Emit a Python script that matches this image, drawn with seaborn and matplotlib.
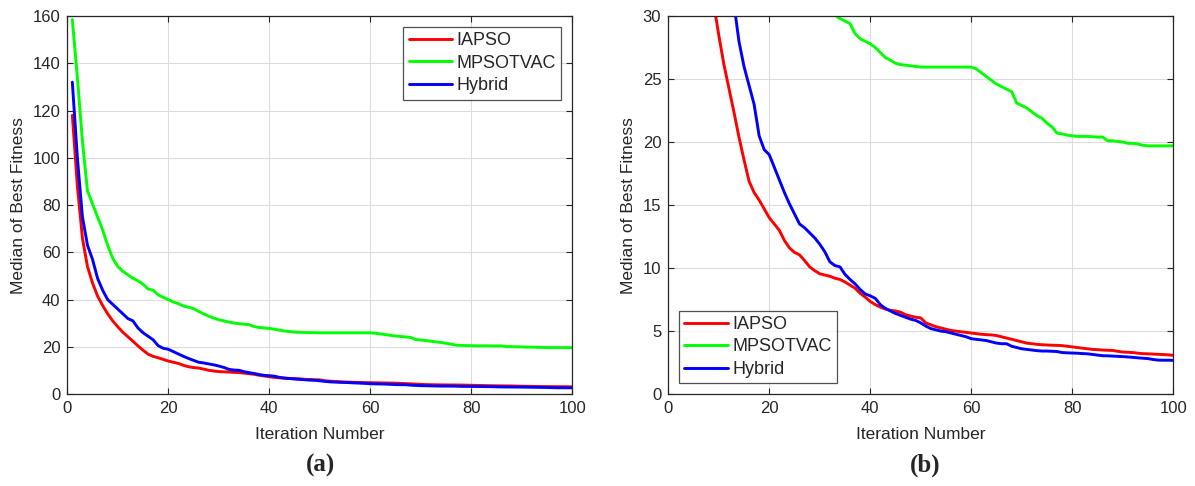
import numpy as np
import pandas as pd
import seaborn as sns
import matplotlib.pyplot as plt

# Median best fitness per iteration
iterations = list(range(1, 101))

iapso = [118, 88, 66, 54, 47, 41.5, 37.5, 34, 31, 28.5,
         26.2, 24.3, 22.4, 20.4, 18.6, 16.9, 16.0, 15.4, 14.7, 14.0,
         13.5, 13.0, 12.2, 11.6, 11.25, 11.05, 10.6, 10.1, 9.8, 9.55,
         9.45, 9.35, 9.2, 9.1, 8.9, 8.65, 8.4, 8.0, 7.7, 7.35,
         7.1, 6.9, 6.75, 6.65, 6.6, 6.5, 6.3, 6.2, 6.1, 6.05,
         5.65, 5.5, 5.35, 5.25, 5.15, 5.05, 5.0, 4.95, 4.9, 4.85,
         4.8, 4.75, 4.72, 4.7, 4.65, 4.55, 4.45, 4.35, 4.25, 4.15,
         4.05, 4.0, 3.95, 3.92, 3.9, 3.88, 3.87, 3.85, 3.8, 3.75,
         3.7, 3.65, 3.6, 3.55, 3.53, 3.5, 3.48, 3.47, 3.4, 3.34,
         3.32, 3.3, 3.25, 3.21, 3.2, 3.18, 3.16, 3.14, 3.12, 3.08]

mpsotvac = [158.5, 134, 107, 86, 80.5, 75, 69.5, 63, 57.5, 54,
            52, 50.5, 49, 48, 46.5, 44.5, 44, 42, 41, 40,
            39, 38.3, 37.3, 36.8, 36.2, 35, 34, 33, 32.2, 31.5,
            31, 30.5, 30.1, 29.8, 29.6, 29.4, 28.6, 28.2, 28.0, 27.8,
            27.5, 27.1, 26.7, 26.5, 26.25, 26.15, 26.1, 26.05, 26.0, 25.95,
            25.95, 25.95, 25.95, 25.95, 25.95, 25.95, 25.95, 25.95, 25.95, 25.95,
            25.8, 25.5, 25.2, 24.9, 24.6, 24.4, 24.2, 24.0, 23.1, 22.9,
            22.7, 22.4, 22.1, 21.9, 21.5, 21.2, 20.7, 20.65, 20.55, 20.5,
            20.45, 20.45, 20.45, 20.42, 20.4, 20.4, 20.1, 20.1, 20.05, 20.0,
            19.9, 19.9, 19.85, 19.75, 19.7, 19.7, 19.7, 19.7, 19.7, 19.7]

hybrid = [132, 100, 75, 63, 57, 49, 44, 40, 38, 36,
          34, 32, 31, 28, 26, 24.5, 23, 20.5, 19.4, 19.0,
          18.0, 17.0, 16.0, 15.1, 14.3, 13.5, 13.2, 12.8, 12.4, 11.9,
          11.3, 10.5, 10.2, 10.1, 9.5, 9.1, 8.75, 8.3, 7.95, 7.8,
          7.6, 7.1, 6.8, 6.6, 6.4, 6.25, 6.1, 5.95, 5.85, 5.65,
          5.4, 5.2, 5.1, 5.0, 4.95, 4.85, 4.75, 4.65, 4.55, 4.4,
          4.35, 4.3, 4.25, 4.15, 4.05, 4.0, 4.0, 3.8, 3.7, 3.6,
          3.55, 3.5, 3.45, 3.42, 3.42, 3.4, 3.38, 3.3, 3.28, 3.26,
          3.25, 3.22, 3.2, 3.15, 3.1, 3.05, 3.04, 3.02, 3.0, 2.98,
          2.95, 2.92, 2.88, 2.85, 2.82, 2.75, 2.7, 2.69, 2.69, 2.68]

method_names = ["IAPSO", "MPSOTVAC", "Hybrid"]
palette = {"IAPSO": "#ff0000", "MPSOTVAC": "#00ff00", "Hybrid": "#0000ff"}

df = pd.DataFrame({
    "Iteration": iterations * 3,
    "Fitness": iapso + mpsotvac + hybrid,
    "Method": [m for m in method_names for _ in iterations],
})

sns.set_theme(style="white")
plt.rcParams["font.family"] = ["Liberation Sans", "DejaVu Sans"]

fig = plt.figure(figsize=(11.95, 4.86), dpi=100)
ax_a = fig.add_axes([0.0563, 0.189, 0.4226, 0.778])
ax_b = fig.add_axes([0.5592, 0.189, 0.4226, 0.778])


def style_axis(ax, ylim, yticks):
    ax.set_xlim(0, 100)
    ax.set_ylim(*ylim)
    ax.set_xticks(range(0, 101, 20))
    ax.set_yticks(yticks)
    ax.grid(True, color="#dcdcdc", linewidth=0.8)
    ax.set_axisbelow(True)
    ax.tick_params(direction="in", length=4, width=0.8, colors="#262626",
                   labelsize=12, top=True, right=True,
                   bottom=True, left=True, pad=5)
    for s in ax.spines.values():
        s.set_color("#262626")
        s.set_linewidth(0.9)
    ax.set_xlabel("Iteration Number", fontsize=12.5, color="#262626", labelpad=8)
    ax.set_ylabel("Median of Best Fitness", fontsize=12.5, color="#262626", labelpad=5)


for ax, ylim, yticks, loc in [
    (ax_a, (0, 160), range(0, 161, 20), "upper right"),
    (ax_b, (0, 30), range(0, 31, 5), "lower left"),
]:
    sns.lineplot(data=df, x="Iteration", y="Fitness", hue="Method",
                 hue_order=method_names, palette=palette, linewidth=2.1,
                 ax=ax)
    style_axis(ax, ylim, yticks)
    leg = ax.legend(loc=loc, fontsize=13, frameon=True, fancybox=False,
                    handlelength=2.4, handletextpad=0.25, borderpad=0.3,
                    labelspacing=0.3, borderaxespad=0.6)
    leg.get_frame().set_edgecolor("#262626")
    leg.get_frame().set_linewidth(0.9)
    for line in leg.get_lines():
        line.set_linewidth(2.1)

fig.text(0.268, 0.043, "(a)", ha="center", va="center", fontsize=18,
         fontweight="bold", family=["Liberation Serif", "DejaVu Serif"])
fig.text(0.774, 0.043, "(b)", ha="center", va="center", fontsize=18,
         fontweight="bold", family=["Liberation Serif", "DejaVu Serif"])

fig.savefig("out.png", dpi=100)
